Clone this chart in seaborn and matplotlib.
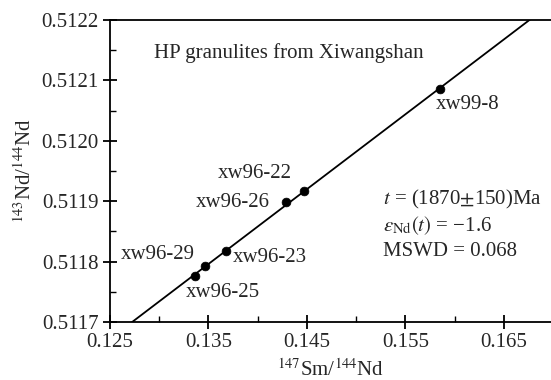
import numpy as np
import pandas as pd
import matplotlib
import matplotlib.pyplot as plt
import seaborn as sns
from matplotlib.ticker import MultipleLocator, FormatStrFormatter
matplotlib.use('Agg')

# данные
samples = ['xw99-8', 'xw96-22', 'xw96-26', 'xw96-23', 'xw96-29', 'xw96-25']
sm_nd = [0.15857, 0.14470, 0.14284, 0.13678, 0.13464, 0.13363]
nd_nd = [0.512086, 0.511917, 0.511898, 0.511817, 0.511792, 0.511776]

x_ticks = [0.125, 0.135, 0.145, 0.155, 0.165]
y_ticks = [0.5117, 0.5118, 0.5119, 0.5120, 0.5121, 0.5122]

# смещения подписей (пиксели) и выравнивание
label_dx = [-5, -12, -16, 7, -10, -9]
label_dy = [-16, 17, 0, -6, 12, -16]
label_ha = ['left', 'right', 'right', 'left', 'right', 'left']

df = pd.DataFrame({'Sm': sm_nd, 'Nd': nd_nd, 'sample': samples})

sns.set_theme(style="ticks")
plt.rcParams['font.family'] = ['Liberation Serif', 'DejaVu Serif']
plt.rcParams['mathtext.fontset'] = 'stix'

fig = plt.figure(figsize=(5.51, 3.80), dpi=100)
ax = fig.add_axes([0.1996, 0.1526, 0.8004, 0.7947])

xlim = (0.125, 0.1698)
ylim = (0.5117, 0.5122)

# изохрона (линейная регрессия по точкам)
slope, intercept = np.polyfit(sm_nd, nd_nd, 1)
xs = np.linspace(xlim[0], xlim[1], 50)
line_df = pd.DataFrame({'Sm': xs, 'Nd': intercept + slope * xs})
sns.lineplot(data=line_df, x='Sm', y='Nd', ax=ax, color='black', lw=1.3)

sns.scatterplot(data=df, x='Sm', y='Nd', ax=ax, color='black', s=40,
                edgecolor='black', linewidth=0.5, zorder=5)

ax.set_xlim(*xlim)
ax.set_ylim(*ylim)

for s, x, y, dx, dy, ha in zip(samples, sm_nd, nd_nd, label_dx, label_dy, label_ha):
    ax.annotate(s, (x, y), xytext=(dx, dy), textcoords='offset pixels',
                ha=ha, va='center', fontsize=15)

ax.text(0.1, 0.89, 'HP granulites from Xiwangshan', transform=ax.transAxes,
        fontsize=15, va='center', ha='left')
ax.text(0.62, 0.405, r'$t$ = (1870$\pm$150)Ma', transform=ax.transAxes,
        fontsize=15, va='center', ha='left')
ax.text(0.62, 0.318, r'$\varepsilon_{\rm Nd}(t)$ = −1.6', transform=ax.transAxes,
        fontsize=15, va='center', ha='left')
ax.text(0.62, 0.235, 'MSWD = 0.068', transform=ax.transAxes,
        fontsize=15, va='center', ha='left')

ax.set_xlabel(r'$^{147}$Sm/$^{144}$Nd', fontsize=15, labelpad=5)
ax.set_ylabel(r'$^{143}$Nd/$^{144}$Nd', fontsize=15, labelpad=4)

ax.set_xticks(x_ticks)
ax.set_yticks(y_ticks)
ax.xaxis.set_minor_locator(MultipleLocator(0.005))
ax.yaxis.set_minor_locator(MultipleLocator(0.00005))
ax.xaxis.set_major_formatter(FormatStrFormatter('%.3f'))
ax.yaxis.set_major_formatter(FormatStrFormatter('%.4f'))

ax.tick_params(which='major', direction='inout', length=10, width=1.3,
               labelsize=15, pad=3, color='black',
               left=True, bottom=True, top=False, right=False)
ax.tick_params(which='minor', direction='in', length=4, width=1.0, color='black',
               left=True, bottom=True, top=False, right=False)

ax.spines['right'].set_visible(False)
for sp in ['left', 'bottom', 'top']:
    ax.spines[sp].set_linewidth(1.3)
    ax.spines[sp].set_color('black')

fig.savefig('out.png', dpi=100)
